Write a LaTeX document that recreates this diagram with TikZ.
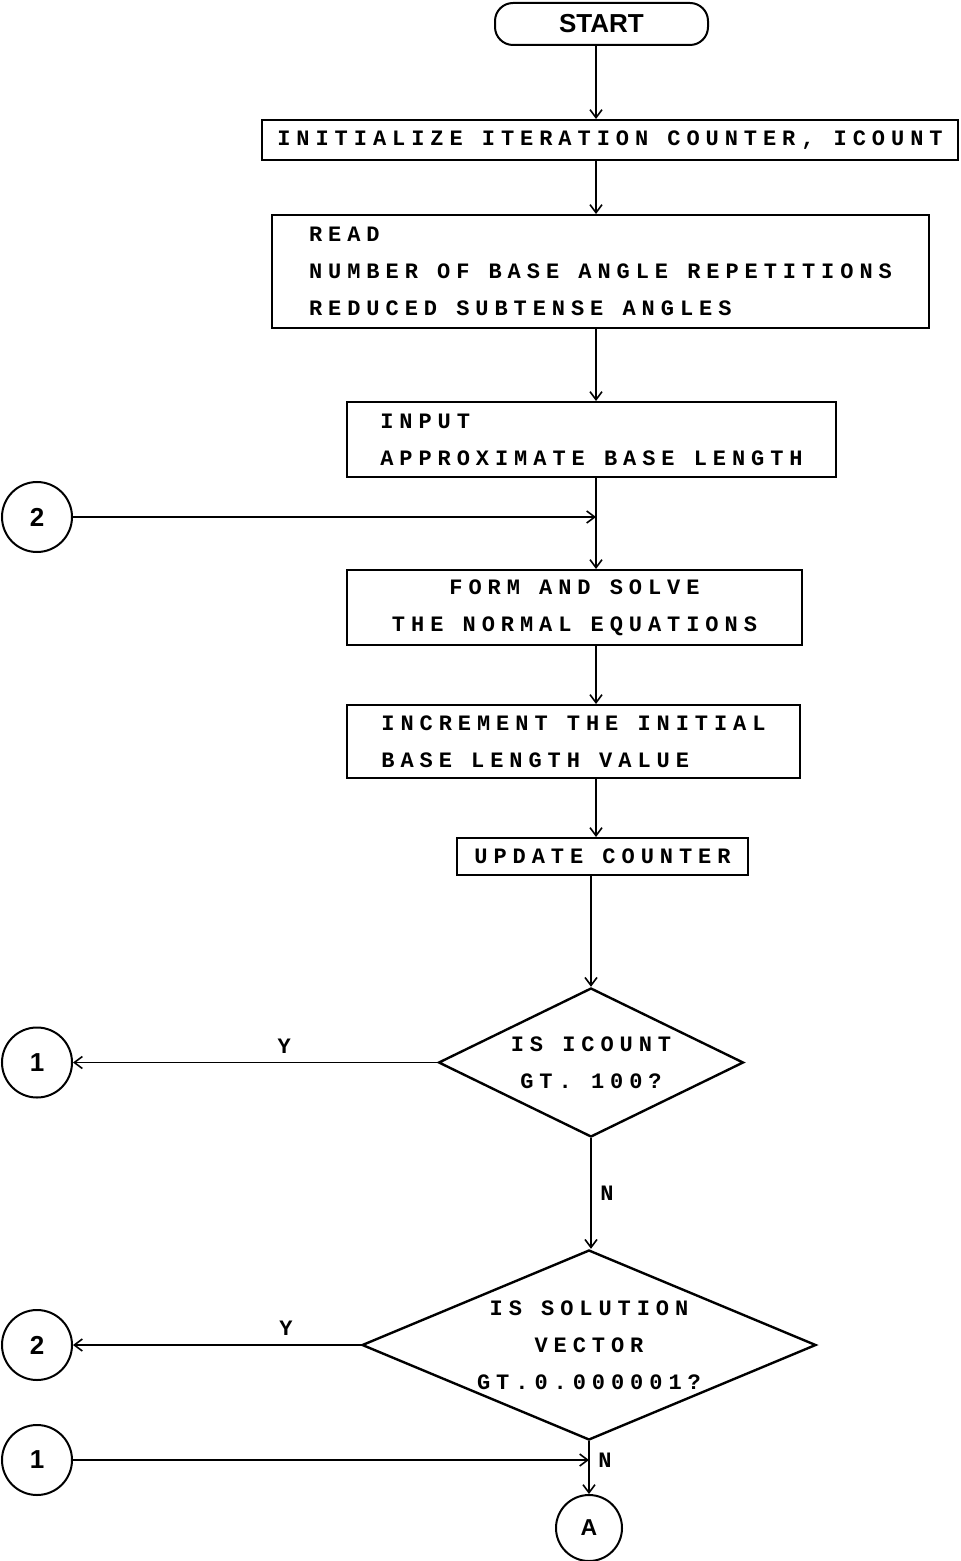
\documentclass[tikz,border=0pt]{standalone}
\usepackage{fontspec}
\setmainfont{Liberation Sans}
\newfontfamily\flowmono[LetterSpace=27]{Liberation Mono}
\usepackage{tikz}
\usetikzlibrary{positioning,arrows.meta,calc,shapes.geometric}
\newcommand\boxfont{\flowmono\bfseries\fontsize{11}{18.5}\selectfont}
\tikzset{
  procbox/.style={draw, line width=1pt, rectangle, inner sep=0pt, font=\boxfont},
  termbox/.style={draw, line width=1pt, rounded corners=9pt, minimum width=106.5pt, minimum height=21pt, font=\bfseries\fontsize{13}{15}\selectfont},
  decisionbox/.style={diamond, draw, line width=1.2pt, inner sep=0pt, align=center, font=\boxfont},
  joinnode/.style={circle, draw, line width=1pt, minimum size=35pt, inner sep=0pt, font=\bfseries\fontsize{13}{15}\selectfont},
  flowarrow/.style={-{Straight Barb[length=4pt,width=6pt]}, line width=0.8pt},
  flowlabel/.style={font=\flowmono\bfseries\fontsize{11}{12}\selectfont}
}
\begin{document}
\begin{tikzpicture}[x=0.5pt, y=-0.5pt]
  \useasboundingbox (0,0) rectangle (961,1561);
  \coordinate (axis) at (596,0);
  \node[termbox] (start) at (601.5,24) {START};
  \node[procbox, minimum width=348pt, minimum height=20pt] (init) at (610,140) {INITIALIZE ITERATION COUNTER, ICOUNT};
  \node[procbox, align=left, minimum width=328.5pt, minimum height=56.5pt] (read) at (600.5,271.5) {READ\\NUMBER OF BASE ANGLE REPETITIONS\\REDUCED SUBTENSE ANGLES};
  \node[procbox, align=left, minimum width=244.5pt, minimum height=37.5pt] (input) at (591.5,439.5) {INPUT\\APPROXIMATE BASE LENGTH};
  \node[procbox, align=center, minimum width=227.5pt, minimum height=37.5pt] (form) at (574.5,607.5) {FORM AND SOLVE\\THE NORMAL EQUATIONS};
  \node[procbox, align=left, minimum width=226.5pt, minimum height=36.5pt] (incr) at (573.5,741.5) {INCREMENT THE INITIAL\\BASE LENGTH VALUE};
  \node[procbox, minimum width=145.5pt, minimum height=18.5pt] (upd) at (602.5,856.5) {UPDATE COUNTER};
  \node[decisionbox, aspect=2, minimum width=152.5pt, minimum height=74.5pt] (dec1) at (591,1062.5) {IS ICOUNT\\GT. 100?};
  \node[decisionbox, aspect=2.4, minimum width=227pt, minimum height=95pt] (dec2) at (589,1345) {IS SOLUTION\\VECTOR\\GT.0.000001?};
  \node[joinnode] (c2a) at (37,517) {2};
  \node[joinnode] (c1a) at (37,1062.5) {1};
  \node[joinnode] (c2b) at (37,1345) {2};
  \node[joinnode] (c1b) at (37,1460) {1};
  \node[joinnode, minimum size=33pt, font=\bfseries\fontsize{11.5}{13}\selectfont] (cA) at (589,1528) {A};
  \draw[flowarrow] (axis |- start.south) -- (axis |- init.north);
  \draw[flowarrow] (axis |- init.south) -- (axis |- read.north);
  \draw[flowarrow] (axis |- read.south) -- (axis |- input.north);
  \draw[flowarrow] (axis |- input.south) -- (axis |- form.north);
  \draw[flowarrow] (c2a) -- (axis |- c2a);
  \draw[flowarrow] (axis |- form.south) -- (axis |- incr.north);
  \draw[flowarrow] (axis |- incr.south) -- (axis |- upd.north);
  \draw[flowarrow] (dec1.north |- upd.south) -- (dec1.north);
  \draw[flowarrow] (dec1.west) -- (c1a) node[flowlabel, above=1pt, pos=0.42] {Y};
  \draw[flowarrow] (dec1.south) -- (dec1.south |- dec2.north) node[flowlabel, right=1pt, midway] {N};
  \draw[flowarrow] (dec2.west) -- (c2b) node[flowlabel, above=1pt, pos=0.26] {Y};
  \draw[flowarrow] (c1b) -- (dec2.south |- c1b);
  \draw[flowarrow] (dec2.south) -- (cA) node[flowlabel, right=1pt, pos=0.36] {N};
\end{tikzpicture}
\end{document}
